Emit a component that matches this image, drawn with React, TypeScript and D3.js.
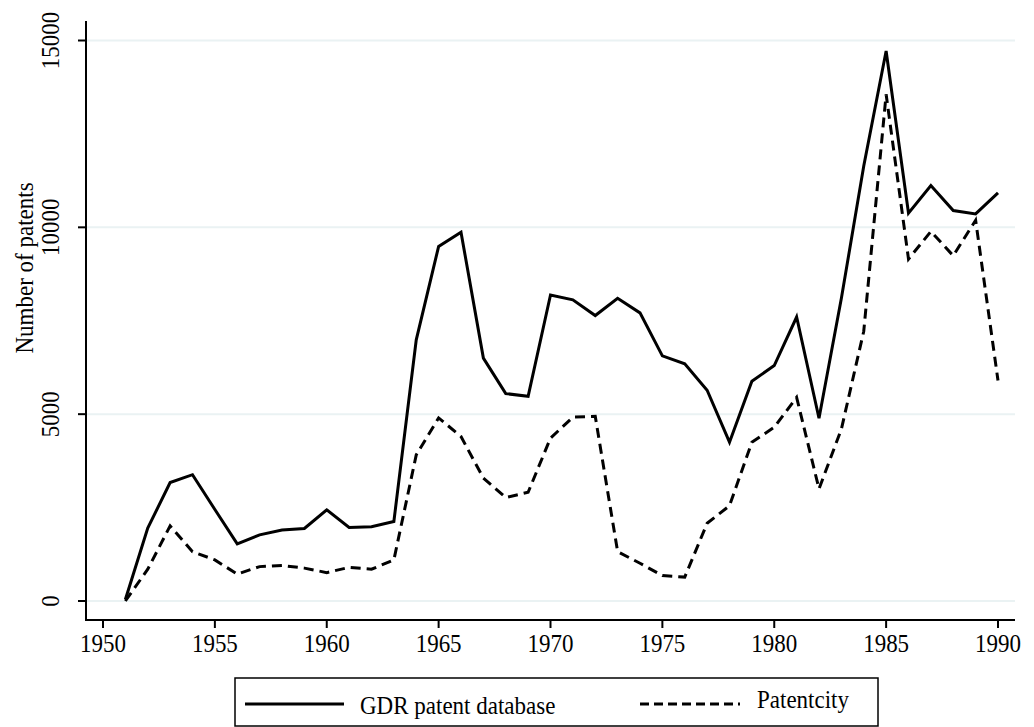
import React from "react";
import * as d3 from "d3";

// years on the x axis
const years = [
  1951, 1952, 1953, 1954, 1955, 1956, 1957, 1958, 1959, 1960,
  1961, 1962, 1963, 1964, 1965, 1966, 1967, 1968, 1969, 1970,
  1971, 1972, 1973, 1974, 1975, 1976, 1977, 1978, 1979, 1980,
  1981, 1982, 1983, 1984, 1985, 1986, 1987, 1988, 1989, 1990,
];

// GDR patent database (solid)
const gdrPatents = [
  40, 1950, 3170, 3380, 2450, 1530, 1770, 1900, 1940, 2440,
  1970, 1990, 2130, 6990, 9490, 9870, 6500, 5550, 5480, 8190,
  8060, 7640, 8100, 7710, 6560, 6350, 5640, 4250, 5880, 6300,
  7600, 4890, 8100, 11640, 14720, 10380, 11120, 10450, 10360, 10920,
];

// Patentcity (dashed)
const patentcity = [
  0, 850, 2010, 1320, 1100, 720, 920, 950, 880, 760,
  900, 850, 1100, 3910, 4900, 4400, 3290, 2770, 2910, 4360,
  4920, 4940, 1320, 1010, 680, 640, 2080, 2550, 4250, 4650,
  5450, 3000, 4600, 7220, 13560, 9150, 9890, 9240, 10190, 5900,
];

const xTicks = [1950, 1955, 1960, 1965, 1970, 1975, 1980, 1985, 1990];
const yTicks = [0, 5000, 10000, 15000];

const seriesNames = ["GDR patent database", "Patentcity"];

const W = 1034;
const H = 727;
const FONT = "'Liberation Serif', 'Times New Roman', serif";
const FS = 25;
const SQUEEZE = 0.92; // the Stata text is a little narrower than Times

// text drawn at (x, y), optionally rotated, a bit condensed
const Label = ({ x, y, rotate = 0, anchor = "middle", children }: any) => (
  <text
    transform={`translate(${x}, ${y}) rotate(${rotate}) scale(${SQUEEZE}, 1)`}
    textAnchor={anchor}
    fontFamily={FONT}
    fontSize={FS}
    fill="#000"
  >
    {children}
  </text>
);

const App = () => {
  const x = d3.scaleLinear().domain([1950, 1990]).range([103, 998]);
  const y = d3.scaleLinear().domain([0, 15000]).range([601, 40.5]);

  const axisLeft = 86;
  const axisBottom = 620;
  const axisTop = 21;
  const axisRight = 1015;

  const line = (vals: number[]) =>
    d3
      .line<number>()
      .x((_, i) => x(years[i]))
      .y((d) => y(d))(vals) || "";

  return (
    <div style={{ position: "absolute", left: 0, top: 0 }}>
      <svg width={W} height={H} xmlns="http://www.w3.org/2000/svg" style={{ display: "block", background: "#fff" }}>
        {/* gridlines */}
        {yTicks.map((t) => (
          <line key={"g" + t} x1={axisLeft + 1} x2={axisRight} y1={y(t)} y2={y(t)} stroke="#eaf2f3" strokeWidth={2} />
        ))}

        {/* series */}
        <path d={line(gdrPatents)} fill="none" stroke="#000" strokeWidth={3} />
        <path d={line(patentcity)} fill="none" stroke="#000" strokeWidth={3} strokeDasharray="10,6" />

        {/* y axis */}
        <line x1={axisLeft} x2={axisLeft} y1={axisTop} y2={axisBottom + 1} stroke="#000" strokeWidth={2} />
        {yTicks.map((t) => (
          <g key={"y" + t}>
            <line x1={axisLeft - 8} x2={axisLeft} y1={y(t)} y2={y(t)} stroke="#000" strokeWidth={2} />
            <Label x={59} y={y(t)} rotate={-90}>
              {t}
            </Label>
          </g>
        ))}
        <Label x={33} y={268} rotate={-90}>
          Number of patents
        </Label>

        {/* x axis */}
        <line x1={axisLeft - 1} x2={axisRight} y1={axisBottom} y2={axisBottom} stroke="#000" strokeWidth={2} />
        {xTicks.map((t) => (
          <g key={"x" + t}>
            <line x1={x(t)} x2={x(t)} y1={axisBottom} y2={axisBottom + 8} stroke="#000" strokeWidth={2} />
            <Label x={x(t)} y={652}>
              {t}
            </Label>
          </g>
        ))}

        {/* legend */}
        <rect x={235} y={678} width={643} height={48} fill="#fff" stroke="#000" strokeWidth={1.5} />
        <line x1={245} x2={344} y1={704} y2={704} stroke="#000" strokeWidth={3} />
        <Label x={360} y={714} anchor="start">
          {seriesNames[0]}
        </Label>
        <line x1={640} x2={740} y1={704} y2={704} stroke="#000" strokeWidth={3} strokeDasharray="9,5" />
        <Label x={757} y={708} anchor="start">
          {seriesNames[1]}
        </Label>
      </svg>
    </div>
  );
};

export default App;
